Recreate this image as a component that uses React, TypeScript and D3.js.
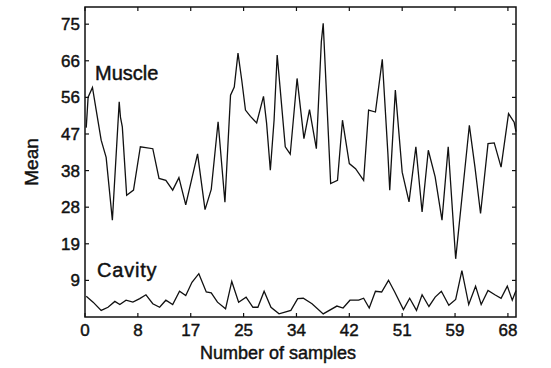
import React from "react";
import * as d3 from "d3";

const WIDTH = 551;
const HEIGHT = 368;
const PLOT = { LEFT: 85, RIGHT: 516, TOP: 7, BOTTOM: 317 };
const FONT = "'Liberation Sans', Arial, Helvetica, sans-serif";

// axis ticks (labels are the rounded values printed on the original)
const X_TICKS = [0, 8.5, 17, 25.5, 34, 42.5, 51, 59.5, 68];
const X_TICK_LABELS = ["0", "8", "17", "25", "34", "42", "51", "59", "68"];
const Y_TICKS = [9.375, 18.75, 28.125, 37.5, 46.875, 56.25, 65.625, 75];
const Y_TICK_LABELS = ["9", "19", "28", "38", "47", "56", "66", "75"];

// Muscle series
const MUSCLE_SAMPLE = [
  0.2, 0.5, 1.2, 1.8, 2.6, 3.4, 4.4, 5.5, 5.7, 6.0, 6.7, 7.8, 8.9, 10.9, 11.9,
  13.0, 14.1, 15.1, 16.2, 18.1, 19.3, 20.3, 21.4, 22.5, 23.4, 24.0, 24.6, 25.2,
  25.8, 26.6, 27.6, 28.7, 29.2, 29.8, 30.4, 30.9, 31.4, 32.2, 33.0, 34.1, 35.2,
  36.1, 37.2, 38.0, 38.3, 39.5, 40.6, 41.4, 42.5, 43.5, 44.8, 45.6, 46.7, 47.8,
  48.7, 49.0, 49.9, 51.0, 52.1, 53.2, 54.2, 55.2, 56.3, 57.4, 58.4, 59.6, 61.8,
  62.7, 63.6, 64.8, 65.8, 66.9, 68.1, 69.0, 69.3,
];
const MUSCLE_MEAN = [
  48.5, 56.3, 58.8, 53.0, 45.3, 40.9, 24.8, 55.1, 51.2, 48.7, 31.2, 32.5, 43.6,
  43.1, 35.5, 35.0, 32.5, 35.7, 28.7, 41.8, 27.5, 32.7, 50.0, 29.4, 56.8, 58.9,
  67.6, 60.7, 53.0, 51.4, 49.7, 56.5, 49.6, 37.6, 50.4, 67.1, 58.1, 43.6, 41.7,
  61.1, 45.7, 53.1, 43.1, 70.5, 75.2, 34.2, 35.0, 50.4, 39.3, 38.0, 35.0, 53.0,
  52.5, 66.0, 41.9, 32.5, 58.1, 37.1, 29.5, 43.6, 26.9, 42.7, 35.9, 24.8, 43.6,
  14.9, 49.1, 38.4, 26.5, 44.4, 44.6, 38.4, 52.1, 49.9, 47.5,
];

// Cavity series
const CAVITY_SAMPLE = [
  0.2, 1.3, 2.6, 3.7, 4.8, 5.6, 6.6, 7.7, 8.8, 9.8, 10.9, 12.0, 13.0, 14.1,
  15.2, 16.2, 17.2, 18.3, 19.5, 20.3, 21.3, 22.6, 23.6, 24.7, 25.9, 27.0, 27.8,
  28.8, 29.9, 31.2, 33.1, 34.2, 35.1, 36.5, 38.3, 40.5, 41.5, 42.6, 44.0, 44.8,
  45.7, 46.7, 47.7, 48.8, 49.8, 51.2, 52.2, 53.3, 54.2, 55.3, 56.3, 57.3, 58.5,
  59.6, 60.6, 61.7, 62.8, 63.7, 64.8, 65.9, 66.9, 67.9, 68.7, 69.3,
];
const CAVITY_MEAN = [
  5.3, 3.8, 1.7, 2.5, 4.0, 3.2, 4.3, 3.8, 4.7, 5.7, 3.4, 2.5, 4.3, 3.2, 6.6,
  5.5, 8.9, 11.1, 6.4, 6.2, 3.8, 2.1, 9.1, 3.8, 5.1, 2.5, 2.5, 6.6, 2.5, 0.8,
  1.7, 4.7, 4.8, 3.4, 0.8, 2.8, 2.3, 4.3, 4.3, 4.8, 2.3, 6.6, 6.4, 9.4, 6.4,
  1.9, 4.8, 1.7, 5.7, 2.7, 5.1, 6.6, 3.0, 4.5, 11.9, 3.2, 7.9, 3.2, 6.8, 5.7,
  4.8, 7.9, 4.3, 6.8,
];

const X_MAX = 69.3;
const Y_MAX = 79.4;

const App: React.FC = () => {
  const x = d3.scaleLinear().domain([0, X_MAX]).range([PLOT.LEFT, PLOT.RIGHT]);
  const y = d3.scaleLinear().domain([0, Y_MAX]).range([PLOT.BOTTOM, PLOT.TOP]);

  const line = d3
    .line<[number, number]>()
    .x((d) => x(d[0]))
    .y((d) => y(d[1]));

  const muscle = MUSCLE_SAMPLE.map((s, i) => [s, MUSCLE_MEAN[i]] as [number, number]);
  const cavity = CAVITY_SAMPLE.map((s, i) => [s, CAVITY_MEAN[i]] as [number, number]);

  const TICK = 4;
  const ink = "#111";
  // the scanned original has heavy type; a thin outline thickens the glyphs
  const textStyle = { fill: ink, stroke: ink, strokeWidth: 0.45 };

  return (
    <svg
      width={WIDTH}
      height={HEIGHT}
      style={{ position: "absolute", left: 0, top: 0, background: "#fff" }}
      fontFamily={FONT}
    >
      <rect x={0} y={0} width={WIDTH} height={HEIGHT} fill="#fff" />

      {/* series */}
      <path d={line(muscle) || ""} fill="none" stroke={ink} strokeWidth={1.3} />
      <path d={line(cavity) || ""} fill="none" stroke={ink} strokeWidth={1.3} />

      {/* frame */}
      <rect
        x={PLOT.LEFT}
        y={PLOT.TOP}
        width={PLOT.RIGHT - PLOT.LEFT}
        height={PLOT.BOTTOM - PLOT.TOP}
        fill="none"
        stroke={ink}
        strokeWidth={1.5}
      />

      {/* x ticks, inward on bottom and top */}
      {X_TICKS.map((t, i) => (
        <g key={"x" + i}>
          <line x1={x(t)} x2={x(t)} y1={PLOT.BOTTOM} y2={PLOT.BOTTOM - TICK} stroke={ink} strokeWidth={1.2} />
          <line x1={x(t)} x2={x(t)} y1={PLOT.TOP} y2={PLOT.TOP + TICK} stroke={ink} strokeWidth={1.2} />
          <text x={x(t)} y={PLOT.BOTTOM + 19} textAnchor="middle" fontSize={17} {...textStyle}>
            {X_TICK_LABELS[i]}
          </text>
        </g>
      ))}

      {/* y ticks, inward on left and right */}
      {Y_TICKS.map((t, i) => (
        <g key={"y" + i}>
          <line x1={PLOT.LEFT} x2={PLOT.LEFT + TICK} y1={y(t)} y2={y(t)} stroke={ink} strokeWidth={1.2} />
          <line x1={PLOT.RIGHT} x2={PLOT.RIGHT - TICK} y1={y(t)} y2={y(t)} stroke={ink} strokeWidth={1.2} />
          <text x={PLOT.LEFT - 5} y={y(t)} dy="0.35em" textAnchor="end" fontSize={17} {...textStyle}>
            {Y_TICK_LABELS[i]}
          </text>
        </g>
      ))}

      {/* series labels */}
      <text x={95} y={80} fontSize={20} {...textStyle}>Muscle</text>
      <text x={97} y={277} fontSize={20} letterSpacing={0.8} {...textStyle}>Cavity</text>

      {/* axis titles */}
      <text x={278} y={359} textAnchor="middle" fontSize={18} {...textStyle}>
        Number of samples
      </text>
      <text
        transform={`translate(38, ${(PLOT.TOP + PLOT.BOTTOM) / 2}) rotate(-90)`}
        textAnchor="middle"
        fontSize={19}
        {...textStyle}
      >
        Mean
      </text>
    </svg>
  );
};

export default App;
